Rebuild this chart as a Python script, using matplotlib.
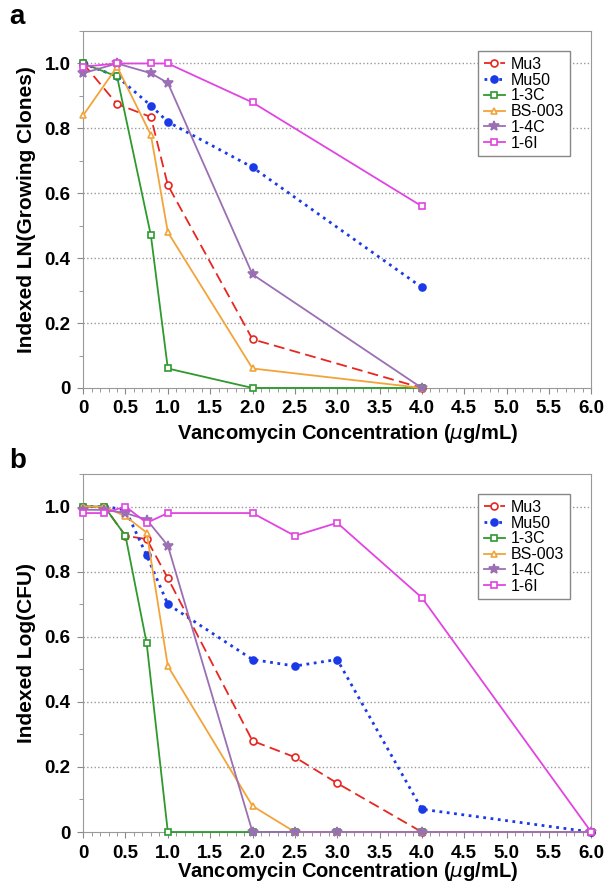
from matplotlib import pyplot as plt
from matplotlib.ticker import MultipleLocator, FixedLocator
import numpy as np

plt.rcParams['font.family'] = ['Liberation Sans', 'DejaVu Sans']

# panel a data (growing clones)
xa = [0, 0.4, 0.8, 1.0, 2.0, 4.0]
a_mu3 = [1.0, 0.875, 0.835, 0.625, 0.15, 0.0]
a_mu50 = [1.0, 0.96, 0.87, 0.82, 0.68, 0.31]
a_13c = [1.0, 0.96, 0.47, 0.06, 0.0, 0.0]
a_bs003 = [0.84, 0.99, 0.78, 0.48, 0.06, 0.0]
a_14c = [0.97, 1.0, 0.97, 0.94, 0.35, 0.0]
a_16i = [0.99, 1.0, 1.0, 1.0, 0.88, 0.56]

# panel b data (CFU)
xb = [0, 0.25, 0.5, 0.75, 1.0, 2.0, 2.5, 3.0, 4.0, 6.0]
b_mu3 = [1.0, 1.0, 0.91, 0.90, 0.78, 0.28, 0.23, 0.15, 0.0, 0.0]
b_mu50 = [1.0, 1.0, 0.99, 0.85, 0.70, 0.53, 0.51, 0.53, 0.07, 0.0]
b_13c = [1.0, 1.0, 0.91, 0.58, 0.0, 0.0, 0.0, 0.0, 0.0, 0.0]
b_bs003 = [1.0, 1.0, 0.97, 0.92, 0.51, 0.08, 0.0, 0.0, 0.0, 0.0]
b_14c = [0.99, 0.99, 0.98, 0.96, 0.88, 0.0, 0.0, 0.0, 0.0, 0.0]
b_16i = [0.98, 0.98, 1.0, 0.95, 0.98, 0.98, 0.91, 0.95, 0.72, 0.0]

names = ["Mu3", "Mu50", "1-3C", "BS-003", "1-4C", "1-6I"]
colors = ["#e8261f", "#1a3ae8", "#2e9a2e", "#f2a43a", "#9b6fb3", "#e244e2"]
markers = ["o", "o", "s", "^", "*", "s"]
styles = [(0, (6, 3)), ":", "-", "-", "-", "-"]
filled = [False, True, False, False, True, False]

xticks = np.arange(0, 6.01, 0.5)
xtick_labels = ["0"] + ["%.1f" % v for v in xticks[1:]]
yticks = [0, 0.2, 0.4, 0.6, 0.8, 1.0]
ytick_labels = ["0", "0.2", "0.4", "0.6", "0.8", "1.0"]


def draw_panel(ax, x, series, ylabel, xlabel_y):
  for y, name, c, m, ls, f in zip(series, names, colors, markers, styles, filled):
    lw = 2.0 if ls == ":" else 1.3
    ms = 7 if m == "*" else 5
    ax.plot(x, y, color=c, linestyle=ls, linewidth=lw, marker=m, markersize=ms,
            markerfacecolor=c if f else "white", markeredgecolor=c,
            markeredgewidth=1.2, label=name, clip_on=False, zorder=3)
  ax.set_xlim(0, 6.0)
  ax.set_ylim(0, 1.1)
  ax.xaxis.set_major_locator(FixedLocator(xticks))
  ax.set_xticklabels(xtick_labels, fontsize=13.5, fontweight="bold")
  ax.xaxis.set_minor_locator(MultipleLocator(0.1))
  ax.yaxis.set_major_locator(FixedLocator(yticks))
  ax.set_yticklabels(ytick_labels, fontsize=13.5, fontweight="bold")
  ax.yaxis.set_minor_locator(MultipleLocator(0.1))
  ax.tick_params(which="both", direction="out", color="#888888")
  ax.tick_params(which="major", length=4, pad=5)
  ax.tick_params(which="minor", length=3)
  for yv in yticks[1:]:
    ax.axhline(yv, color="#999999", linestyle=":", linewidth=1.0, zorder=1)
  for s in ax.spines.values():
    s.set_color("#999999")
  ax.set_xlabel("Vancomycin Concentration ($\\mu$g/mL)", fontsize=14.5, fontweight="bold")
  ax.xaxis.set_label_coords(0.52, xlabel_y)
  ax.set_ylabel(ylabel, fontsize=15, fontweight="bold", labelpad=6)
  leg = ax.legend(loc="upper right", bbox_to_anchor=(0.974, 0.966), fontsize=11.5,
                  fancybox=False, edgecolor="#888888", handlelength=1.3,
                  handletextpad=0.4, borderpad=0.35, labelspacing=0.05, framealpha=1)
  leg.get_frame().set_linewidth(1.0)


fig = plt.figure(figsize=(6.07, 8.89), dpi=100)
ax1 = fig.add_axes([0.137, 0.5636, 0.837, 0.4015])
ax2 = fig.add_axes([0.137, 0.0641, 0.837, 0.4027])

draw_panel(ax1, xa, [a_mu3, a_mu50, a_13c, a_bs003, a_14c, a_16i], "Indexed LN(Growing Clones)", -0.095)
draw_panel(ax2, xb, [b_mu3, b_mu50, b_13c, b_bs003, b_14c, b_16i], "Indexed Log(CFU)", -0.078)

fig.text(0.015, 0.981, "a", fontsize=20, fontweight="bold", va="center")
fig.text(0.015, 0.481, "b", fontsize=20, fontweight="bold", va="center")

fig.savefig("out.png", dpi=100)
